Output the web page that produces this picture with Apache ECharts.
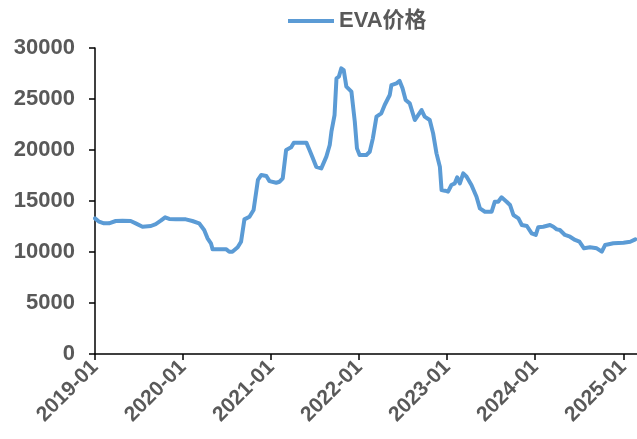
<!DOCTYPE html>
<html>
<head>
<meta charset="utf-8">
<title>EVA价格</title>
<script src="https://cdn.jsdelivr.net/npm/echarts@6/dist/echarts.min.js"></script>
<style>
  html, body { margin: 0; padding: 0; background: #ffffff; }
  #chart { width: 637px; height: 439px; }
</style>
</head>
<body>
<div id="chart"></div>
<script>
// EVA price series (yuan/ton), sampled at irregular dates
const seriesName = 'EVA价格';

const dates = [
  '2019-01-01','2019-01-18','2019-02-07','2019-02-28','2019-03-28','2019-04-25','2019-05-29','2019-06-19',
  '2019-07-17','2019-08-21','2019-09-10','2019-10-01','2019-10-19','2019-11-05','2019-12-03','2019-12-30',
  '2020-01-13','2020-02-09','2020-03-08','2020-03-29','2020-04-12','2020-04-26','2020-05-03','2020-05-18',
  '2020-06-08','2020-06-29','2020-07-11','2020-07-24','2020-08-15','2020-08-29','2020-09-12','2020-10-03',
  '2020-10-20','2020-11-07','2020-11-21','2020-12-12','2020-12-25',
  '2021-01-01','2021-01-22','2021-02-05','2021-02-18','2021-03-04','2021-03-25','2021-04-05','2021-04-29',
  '2021-05-27','2021-06-09','2021-06-23','2021-07-07','2021-07-28','2021-08-18','2021-09-01','2021-09-08',
  '2021-09-21','2021-09-29','2021-10-09','2021-10-19','2021-10-29','2021-11-09','2021-11-30','2021-12-14',
  '2021-12-23',
  '2022-01-03','2022-01-31','2022-02-14','2022-02-27','2022-03-14','2022-04-03','2022-04-17','2022-05-08',
  '2022-05-15','2022-06-05','2022-06-18','2022-06-30','2022-07-13','2022-07-30','2022-08-20','2022-09-03',
  '2022-09-17','2022-09-30','2022-10-21','2022-11-04','2022-11-18','2022-12-02','2022-12-09','2022-12-23',
  '2023-01-05','2023-01-19','2023-02-02','2023-02-12','2023-02-23','2023-03-09','2023-03-23','2023-04-12',
  '2023-05-03','2023-05-17','2023-06-07','2023-07-05','2023-07-18','2023-08-01','2023-08-15','2023-09-05',
  '2023-09-19','2023-10-03','2023-10-24','2023-11-07','2023-11-28','2023-12-18',
  '2024-01-04','2024-01-14','2024-02-04','2024-03-03','2024-03-17','2024-03-31','2024-04-13','2024-05-04',
  '2024-05-25','2024-06-15','2024-07-03','2024-07-22','2024-08-16','2024-09-13','2024-10-04','2024-10-18',
  '2024-11-21','2025-01-02','2025-01-30','2025-02-20'
];

const prices = [
  13300, 12970, 12810, 12810, 13040, 13070, 13040, 12810,
  12480, 12550, 12740, 13070, 13400, 13240, 13200, 13200,
  13200, 13040, 12810, 12160, 11340, 10850, 10260, 10260,
  10260, 10260, 10030, 10030, 10460, 11010, 13200, 13460,
  14120, 17060, 17550, 17450, 16950,
  16890, 16790, 16890, 17220, 20000, 20260, 20720, 20720,
  20720, 20000, 19180, 18360, 18200, 19350, 20490, 21790,
  23430, 27030, 27190, 28010, 27840, 26210, 25720, 22780,
  20160,
  19510, 19510, 19830, 21140, 23270, 23600, 24410, 25390,
  26370, 26540, 26770, 26050, 24900, 24570, 22940, 23430,
  23920, 23270, 22940, 21630, 19670, 18360, 16080, 16010,
  15920, 16570, 16730, 17320, 16730, 17710, 17380, 16570,
  15420, 14280, 13950, 13950, 14930, 14930, 15360, 14930,
  14610, 13630, 13300, 12650, 12550, 11830,
  11670, 12420, 12480, 12650, 12480, 12220, 12160, 11670,
  11500, 11180, 11010, 10360, 10460, 10360, 10030, 10690,
  10850, 10910, 11010, 11240
];

// Year marks on the date axis
const yearTicks = ['2019-01-01','2020-01-01','2021-01-01','2022-01-01','2023-01-01','2024-01-01','2025-01-01'];
const axisStart = '2019-01-01';
const axisEnd = '2025-02-27';

// Value axis range
const yMin = 0;
const yMax = 30000;
const yStep = 5000;

const toTime = s => {
  const p = s.split('-').map(Number);
  return Date.UTC(p[0], p[1] - 1, p[2]);
};
const pad2 = n => (n < 10 ? '0' : '') + n;

const chart = echarts.init(document.getElementById('chart'), null, { renderer: 'canvas' });
const labelFont = '"Liberation Sans", Arial, "Noto Sans CJK SC", sans-serif';
const tickTimes = yearTicks.map(toTime);

chart.setOption({
  animation: false,
  backgroundColor: '#ffffff',
  legend: {
    data: [seriesName],
    top: 5,
    left: 283,
    icon: 'rect',
    itemWidth: 46,
    itemHeight: 4,
    itemGap: 6,
    textStyle: { fontFamily: labelFont, fontSize: 22, fontWeight: 'bold', color: '#595959' }
  },
  grid: { left: 95, right: 0, top: 48, bottom: 85, containLabel: false },
  xAxis: {
    // dates are plotted as millisecond timestamps on a linear axis
    type: 'value',
    min: toTime(axisStart),
    max: toTime(axisEnd),
    axisLine: { show: true, lineStyle: { color: '#000000', width: 1.5 } },
    axisTick: { show: true, inside: false, length: 6, customValues: tickTimes, lineStyle: { color: '#000000', width: 1.5 } },
    splitLine: { show: false },
    axisLabel: {
      customValues: tickTimes,
      rotate: 45,
      margin: 10,
      fontFamily: labelFont,
      fontSize: 21,
      fontWeight: 'bold',
      color: '#595959',
      formatter: v => {
        const d = new Date(v);
        return d.getUTCFullYear() + '-' + pad2(d.getUTCMonth() + 1);
      }
    }
  },
  yAxis: {
    type: 'value',
    min: yMin,
    max: yMax,
    interval: yStep,
    axisLine: { show: true, lineStyle: { color: '#000000', width: 1.5 } },
    axisTick: { show: true, inside: false, length: 6, lineStyle: { color: '#000000', width: 1.5 } },
    splitLine: { show: false },
    axisLabel: {
      margin: 20,
      fontFamily: labelFont,
      fontSize: 22,
      fontWeight: 'bold',
      color: '#595959',
      formatter: v => String(v)
    }
  },
  series: [{
    name: seriesName,
    type: 'line',
    data: dates.map((d, i) => [toTime(d), prices[i]]),
    showSymbol: false,
    symbol: 'none',
    smooth: false,
    color: '#5B9BD5',
    lineStyle: { color: '#5B9BD5', width: 4, join: 'round', cap: 'round' }
  }]
});
</script>
</body>
</html>
